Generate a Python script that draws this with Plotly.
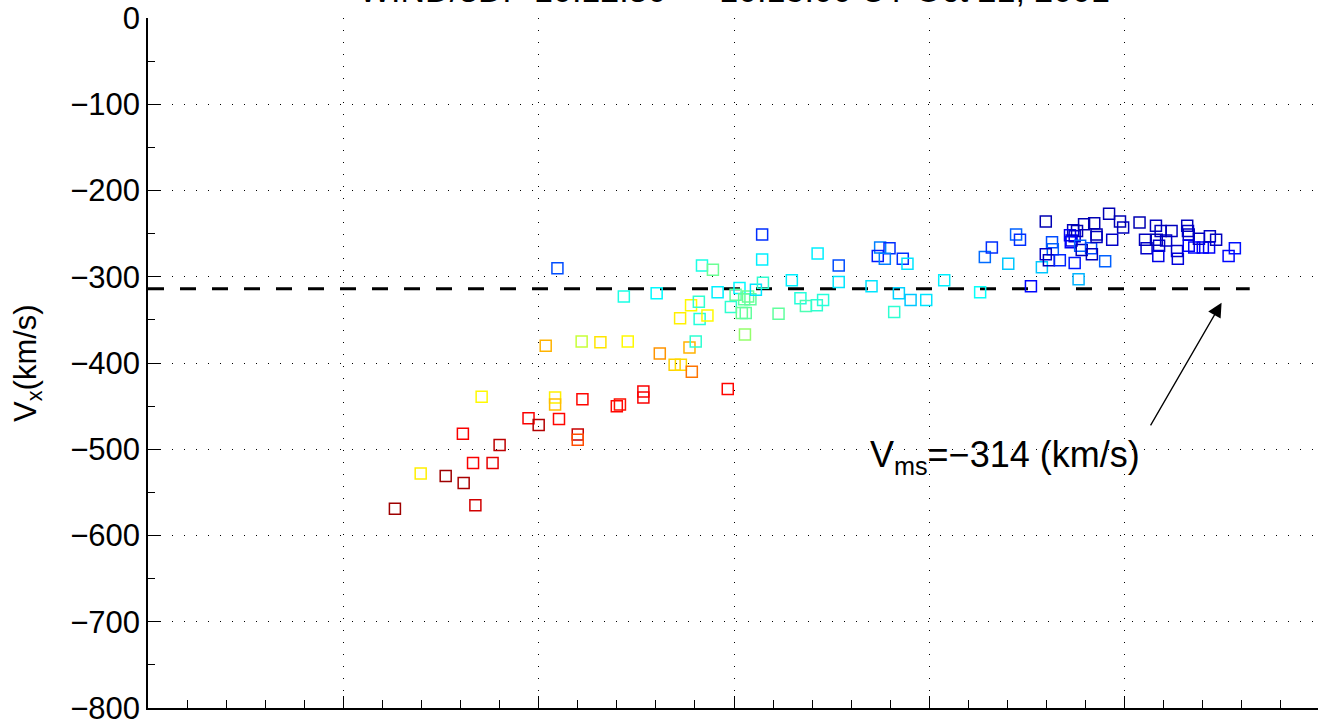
import plotly.graph_objects as go

# time (s after 10:12:30 UT) and Vx (km/s) of each sample, colour value (jet 0..1)
t_s = [31.6, 34.9, 38.1, 40.4, 40.3, 41.6, 41.9, 42.7, 44.1, 45.0, 48.7, 50.0, 52.1, 52.1, 52.6, 55.0, 55.0, 55.6, 60.0, 60.4, 63.4, 63.4, 74.2,
       50.9, 55.5, 57.9, 61.4, 65.5, 67.4, 68.2, 69.6, 69.3, 70.1, 76.4,
       52.4, 60.9, 65.1, 70.9, 72.3, 69.5, 70.5, 68.1, 70.6, 71.6, 72.9, 74.6, 75.2, 75.7, 76.3, 76.8, 77.1, 76.0, 76.5, 77.8, 78.6, 78.6, 78.7,
       80.7, 82.4, 83.5, 84.2, 85.6, 86.4, 85.7, 88.4, 88.4, 92.6, 93.7, 94.9, 93.4, 94.3, 96.6, 97.2, 96.1, 97.6, 99.6, 95.5, 101.9, 106.5, 107.1, 108.0,
       110.1, 111.1, 111.6, 114.9, 114.4, 115.7, 115.8, 114.9, 115.3, 116.7, 118.6, 113.0, 119.1, 118.4, 118.0, 118.2, 118.9, 118.6, 118.1, 119.3, 119.5, 120.7, 120.8,
       119.8, 121.1, 121.4, 121.4, 123.4, 122.5, 123.0, 124.4, 124.8, 126.9, 129.0, 129.6, 131.0, 127.6, 127.8, 129.1, 129.4,
       129.3, 130.3, 131.7, 131.8, 133.0, 133.1, 133.2, 133.2, 133.9, 134.5, 135.0, 135.8, 135.9, 136.7, 138.3, 139.1]

vx = [-569, -528, -531, -539, -482, -516, -565, -439, -516, -495, -464, -472, -440, -448, -465, -483, -489, -442, -450, -448, -433, -440, -430,
      -380, -375, -376, -375, -389, -402, -402, -410, -382, -375, -367,
      -290, -323, -319, -287, -292, -333, -329, -348, -349, -345, -318, -335, -321, -313, -326, -323, -326, -342, -342, -315, -280, -251, -307,
      -343, -304, -325, -334, -333, -327, -273, -287, -306, -311, -266, -267, -276, -279, -279, -285, -319, -327, -327, -341, -304, -318, -277, -266,
      -285, -251, -257, -236, -289, -260, -268, -274, -281, -281, -284, -311, -303, -246, -252, -258, -247, -253, -260, -264, -269, -267, -274,
      -239, -238, -251, -254, -257, -282, -227, -236, -243, -237, -241, -247, -247, -257, -267, -257, -264,
      -276, -258, -270, -279, -241, -247, -251, -264, -266, -256, -266, -266, -253, -257, -276, -267]

cval = [0.97, 0.64, 0.97, 0.96, 0.88, 0.88, 0.92, 0.63, 0.90, 0.94, 0.88, 0.95, 0.64, 0.69, 0.87, 0.93, 0.80, 0.87, 0.87, 0.86, 0.88, 0.88, 0.87,
        0.70, 0.57, 0.65, 0.63, 0.73, 0.67, 0.66, 0.76, 0.70, 0.42, 0.52,
        0.20, 0.40, 0.37, 0.40, 0.48, 0.63, 0.42, 0.64, 0.41, 0.63, 0.36, 0.42, 0.47, 0.37, 0.47, 0.48, 0.47, 0.48, 0.47, 0.35, 0.36, 0.17, 0.42,
        0.47, 0.36, 0.41, 0.45, 0.42, 0.41, 0.36, 0.20, 0.35, 0.35, 0.25, 0.17, 0.15, 0.25, 0.17, 0.35, 0.33, 0.32, 0.35, 0.42, 0.36, 0.38, 0.23, 0.17,
        0.32, 0.22, 0.17, 0.05, 0.32, 0.20, 0.22, 0.07, 0.06, 0.16, 0.15, 0.13, 0.30, 0.06, 0.12, 0.10, 0.05, 0.08, 0.12, 0.22, 0.06, 0.20, 0.06,
        0.05, 0.05, 0.05, 0.06, 0.07, 0.22, 0.05, 0.05, 0.06, 0.05, 0.06, 0.06, 0.06, 0.06, 0.07, 0.05, 0.07,
        0.10, 0.07, 0.07, 0.09, 0.06, 0.07, 0.07, 0.12, 0.13, 0.06, 0.12, 0.12, 0.07, 0.06, 0.13, 0.14]

v_ms = -314
line_t = [0, 141]
arrow_tail = (128.2, -474)
arrow_head = (137.4, -330)
label_pos = (109.7, -509)
title_text = "WIND/3DP 10:12:30 \u2014 10:15:00 UT Oct 21, 2001"

assert len(t_s) == len(vx) == len(cval)

jet = [[0.0, "rgb(0,0,128)"], [0.125, "rgb(0,0,255)"], [0.375, "rgb(0,255,255)"],
       [0.625, "rgb(255,255,0)"], [0.875, "rgb(255,0,0)"], [1.0, "rgb(128,0,0)"]]

FONT = "Liberation Sans, Arial, Helvetica, sans-serif"

fig = go.Figure()
fig.add_trace(go.Scatter(
    x=line_t, y=[v_ms, v_ms], mode="lines",
    line=dict(color="black", width=3, dash="16px,16px"),
    hoverinfo="skip", showlegend=False))
fig.add_trace(go.Scatter(
    x=t_s, y=vx, mode="markers", showlegend=False,
    marker=dict(symbol="square-open", size=11, color=cval, colorscale=jet,
                cmin=0, cmax=1, line=dict(width=1.5))))

fig.add_annotation(x=arrow_head[0], y=arrow_head[1], ax=arrow_tail[0], ay=arrow_tail[1],
                   xref="x", yref="y", axref="x", ayref="y", text="",
                   showarrow=True, arrowhead=2, arrowsize=2.2, arrowwidth=1.3, arrowcolor="black")
fig.add_annotation(x=label_pos[0], y=label_pos[1], xref="x", yref="y",
                   text="V<sub>ms</sub>=\u2212314 (km/s)", showarrow=False,
                   font=dict(family=FONT, size=36, color="black"))
fig.add_annotation(x=75, y=1.0097, xref="x", yref="paper", xanchor="center", yanchor="bottom",
                   text=title_text, showarrow=False,
                   font=dict(family=FONT, size=34, color="black"))
fig.add_annotation(x=-0.1026, y=0.5, xref="paper", yref="paper", textangle=-90,
                   xanchor="center", yanchor="middle",
                   text="V<sub>x</sub>(km/s)", showarrow=False,
                   font=dict(family=FONT, size=31, color="black"))

grid = dict(showgrid=True, gridcolor="black", gridwidth=1, griddash="1px,11px")
fig.update_xaxes(range=[0, 149.74], tick0=0, dtick=25, showticklabels=False,
                 ticks="inside", ticklen=12, tickcolor="black",
                 minor=dict(dtick=5, ticks="inside", ticklen=8, tickcolor="black", showgrid=False),
                 showline=True, linecolor="black", linewidth=1.5, zeroline=False, **grid)
fig.update_yaxes(range=[-800, 0], tick0=0, dtick=100, tickformat="d",
                 ticks="inside", ticklen=12, tickcolor="black", ticklabeloverflow="allow",
                 minor=dict(dtick=50, ticks="inside", ticklen=7, tickcolor="black", showgrid=False),
                 showline=True, linecolor="black", linewidth=1.5, zeroline=False,
                 tickfont=dict(family=FONT, size=31, color="black"), **grid)
fig.update_layout(width=1318, height=726, plot_bgcolor="white", paper_bgcolor="white",
                  margin=dict(l=148, r=0, t=18, b=13), separators=".,",
                  font=dict(family=FONT, color="black"))
fig.write_html("out.html", config={"displayModeBar": False},
               post_script="document.body.style.margin='0';")
